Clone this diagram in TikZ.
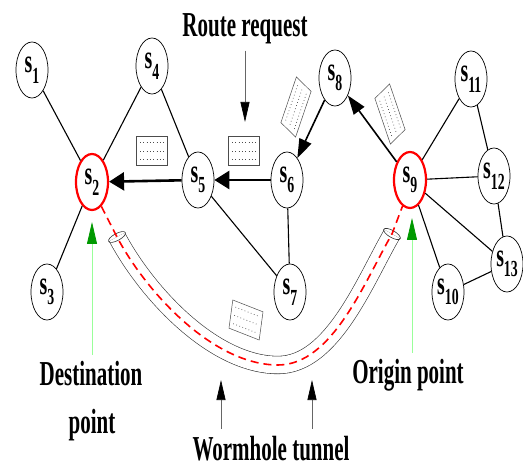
\documentclass[tikz,border=0pt]{standalone}
\usepackage{fontspec}
\setmainfont{Liberation Serif}
\usetikzlibrary{arrows.meta,shapes.geometric}

% condensed bold lettering
\newcommand{\narrow}[1]{\scalebox{0.6}[1]{#1}}
\newcommand{\sid}[1]{\narrow{s\raisebox{-0.32em}{\fontsize{23}{23}\selectfont #1}}}

\tikzset{
  sensor/.style={ellipse, draw=black, line width=0.7pt, fill=white, minimum width=32pt, minimum height=56pt, inner sep=0pt, font=\fontsize{33}{35}\selectfont\bfseries},
  endpt/.style={sensor, draw=red, line width=2.2pt},
  link/.style={draw=black, line width=1.1pt},
  hop/.style={draw=black, line width=2.6pt, -{Triangle[length=15pt,width=18pt]}},
  relay/.style={draw=black, line width=1.6pt, -{Triangle[length=19pt,width=13pt]}},
  caption/.style={font=\fontsize{35}{38}\selectfont\bfseries, inner sep=1pt, anchor=base},
  pointer/.style={draw=black!60, line width=0.7pt, -{Triangle[length=20pt,width=9pt,color=black]}},
  greenptr/.style={draw=green!40, line width=0.8pt, -{Triangle[length=22pt,width=10pt,color=green!60!black]}},
  tube/.style={draw=black!80, line width=0.6pt, double=white, double distance=17pt},
  wormpath/.style={draw=red, line width=1.6pt, dash pattern=on 8pt off 5pt},
  packet/.pic={
    \begin{scope}[yscale=1.7, rotate=#1]
      \draw[draw=black!70, line width=0.5pt, fill=white] (-15.5,-8.5) rectangle (15.5,8.5);
      \foreach \r in {-5,0,5}
        \draw[black!70, line width=0.7pt, dash pattern=on 0.7pt off 2.6pt] (-12,\r) -- (12,\r);
    \end{scope}
  }
}

\begin{document}
\begin{tikzpicture}[x=1pt, y=-1pt]
  \useasboundingbox (0,0) rectangle (523,468);

  % sensors
  \node[sensor] (s1) at (32,70) {\sid{1}};
  \node[endpt] (s2) at (92,182) {\sid{2}};
  \node[sensor] (s3) at (47,292) {\sid{3}};
  \node[sensor] (s4) at (152,66) {\sid{4}};
  \node[sensor] (s5) at (198,180) {\sid{5}};
  \node[sensor] (s6) at (287,180) {\sid{6}};
  \node[sensor] (s7) at (290,292) {\sid{7}};
  \node[sensor] (s8) at (335,78) {\sid{8}};
  \node[endpt] (s9) at (410,180) {\sid{9}};
  \node[sensor] (s10) at (448,292) {\sid{10}};
  \node[sensor] (s11) at (471,79) {\sid{11}};
  \node[sensor] (s12) at (494,176) {\sid{12}};
  \node[sensor] (s13) at (507,264) {\sid{13}};

  % plain links
  \foreach \a/\b in {s1/s2, s4/s2, s3/s2, s4/s5, s5/s7, s6/s7, s9/s11, s9/s12,
                     s11/s12, s12/s13, s9/s13, s9/s10, s10/s13}
    \draw[link] (\a) -- (\b);

  % request forwarding
  \draw[relay] (s9) -- (s8);
  \draw[relay] (s8) -- (s6);
  \draw[hop] (s6) -- (s5);
  \draw[hop] (s5) -- (s2);

  % packets in flight
  \foreach \px/\py/\ang in {152/151/0, 244/151/0, 296/107/60, 390/114/120, 246/320/-13}
    \pic at (\px,\py) {packet=\ang};

  % wormhole tunnel
  \coordinate (wA) at (117,237);
  \coordinate (wB) at (278,365);
  \coordinate (wC) at (392,234);
  \draw[tube] (wA) to[out=-62, in=180, looseness=0.8] (wB)
                   to[out=0, in=-120, looseness=0.8] (wC);
  \draw[black!80, line width=0.6pt, rotate around={-62:(wA)}] (wA) ellipse (3.5 and 9.5);
  \draw[black!80, line width=0.6pt, rotate around={60:(wC)}] (wC) ellipse (3.5 and 9.5);
  \draw[wormpath] (s2.-69) -- (wA) to[out=-62, in=180, looseness=0.8] (wB)
                  to[out=0, in=-120, looseness=0.8] (wC) -- (s9.-106);

  % captions
  \node[caption] (req) at (245,37) {\narrow{Route request}};
  \node[caption] (dest) at (91,385) {\narrow{Destination}};
  \node[caption] (destb) at (92,433) {\narrow{point}};
  \node[caption] (orig) at (408,383) {\narrow{Origin point}};
  \node[caption] (worm) at (271,460) {\narrow{Wormhole tunnel}};

  \coordinate (rtip) at (245,122);
  \coordinate (dtip) at (92,222);
  \coordinate (otip) at (412,218);
  \coordinate (wl) at (221,380);
  \coordinate (wr) at (312,380);

  \draw[pointer, shorten <=5pt] (req.south -| rtip) -- (rtip);
  \draw[greenptr, shorten <=5pt] (dest.north -| dtip) -- (dtip);
  \draw[greenptr, shorten <=5pt] (orig.north -| otip) -- (otip);
  \draw[pointer, shorten <=6pt] (worm.north -| wl) -- (wl);
  \draw[pointer, shorten <=6pt] (worm.north -| wr) -- (wr);
\end{tikzpicture}
\end{document}
